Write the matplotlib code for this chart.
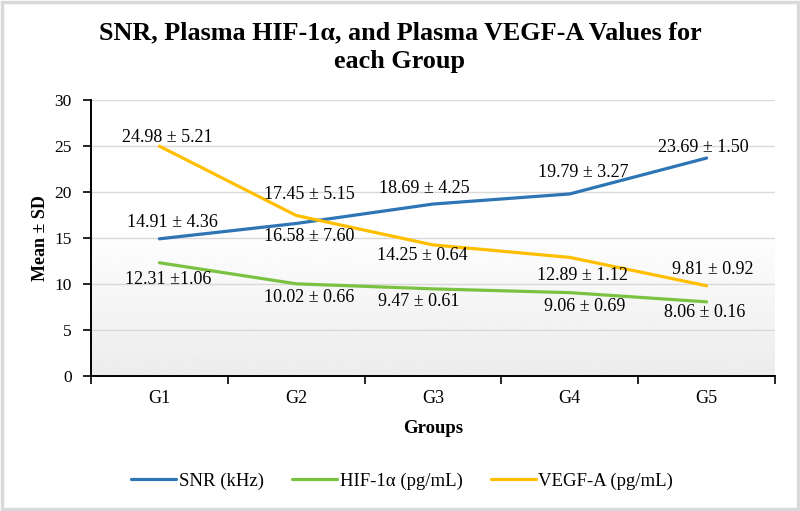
import numpy as np
import matplotlib
matplotlib.use("Agg")
import matplotlib.pyplot as plt
from matplotlib.patches import Rectangle

#--- Data
groups = ["G1", "G2", "G3", "G4", "G5"]
snr_mean = [14.91, 16.58, 18.69, 19.79, 23.69]
snr_sd = [4.36, 7.60, 4.25, 3.27, 1.50]
hif_mean = [12.31, 10.02, 9.47, 9.06, 8.06]
hif_sd = [1.06, 0.66, 0.61, 0.69, 0.16]
vegf_mean = [24.98, 17.45, 14.25, 12.89, 9.81]
vegf_sd = [5.21, 5.15, 0.64, 1.12, 0.92]
series_names = ["SNR (kHz)", "HIF-1\u03b1 (pg/mL)", "VEGF-A (pg/mL)"]

#--- Label placement (pixel offsets from each point)
snr_offsets = [(13, 16), (13, -13.5), (-9, 16), (13, 21), (-3, 11)]
hif_offsets = [(9, -17), (13, -14), (-14, -13), (15, -13.5), (-2, -11)]
vegf_offsets = [(8, 8.5), (13, 20.5), (-11, -11), (13, -17.6), (6, 16)]

colors = ["#2e75b6", "#7cc242", "#ffbf00"]

plt.rcParams['font.family'] = ['Liberation Serif', 'DejaVu Serif']

fig = plt.figure(figsize=(8, 5.11), dpi=100)
ax = fig.add_axes([91 / 800, 1 - 376 / 511, (775 - 91) / 800, (376 - 100) / 511])

#--- Background gradient, white at the top and light gray at the bottom
t = np.linspace(0, 1, 256)
grad = np.where(t < 0.45, 1.0, 1.0 - (t - 0.45) / 0.55 * 0.075)
ax.imshow(grad.reshape(-1, 1), cmap="gray", vmin=0, vmax=1, aspect="auto",
          extent=[-0.5, 4.5, 0, 30], origin="upper", zorder=0)

x = np.arange(len(groups))
series = [(snr_mean, snr_sd, snr_offsets), (hif_mean, hif_sd, hif_offsets), (vegf_mean, vegf_sd, vegf_offsets)]
for (means, sds, offs), name, c in zip(series, series_names, colors):
    ax.plot(x, means, color=c, lw=2.3, label=name, zorder=3, solid_capstyle="round")
    for xi, m, s, (dx, dy) in zip(x, means, sds, offs):
        # the first HIF label has no space after the plus-minus sign in the original
        txt = f"{m:.2f} \u00b1{s:.2f}" if (name == series_names[1] and xi == 0) else f"{m:.2f} \u00b1 {s:.2f}"
        ax.annotate(txt, (xi, m), xytext=(dx * 0.72, dy * 0.72), textcoords="offset points",
                    ha="center", va="center", fontsize=13, zorder=4)

ax.set_xlim(-0.5, 4.5)
ax.set_ylim(0, 30)
ax.set_yticks(np.arange(0, 31, 5))
ax.set_xticks(np.arange(-0.5, 4.6, 1))
ax.set_xticklabels([])
ax.set_xticks(x, minor=True)
ax.set_xticklabels(groups, minor=True)
ax.tick_params(axis="x", which="minor", length=0, pad=10, labelsize=13)
ax.tick_params(axis="x", which="major", length=6, width=1.2, direction="out")
ax.tick_params(axis="y", length=6, width=1.2, direction="out", labelsize=12.5, pad=8)
ax.grid(axis="y", color="#d9d9d9", lw=1, zorder=1)
ax.set_axisbelow(True)
for side in ["top", "right"]:
    ax.spines[side].set_visible(False)
for side in ["left", "bottom"]:
    ax.spines[side].set_linewidth(1.4)
    ax.spines[side].set_zorder(5)

ax.set_ylabel("Mean \u00b1 SD", fontsize=13, fontweight="bold")
ax.set_xlabel("Groups", fontsize=13.5, fontweight="bold")
ax.yaxis.set_label_coords(-0.061, 0.5)
ax.xaxis.set_label_coords(0.5, -0.16)

fig.text(0.5, 1 - 47 / 511, "SNR, Plasma HIF-1\u03b1, and Plasma VEGF-A Values for\neach Group",
         ha="center", va="center", fontsize=18.8, fontweight="bold", linespacing=1.32)

fig.legend(loc="center", bbox_to_anchor=(402 / 800, 1 - 481 / 511), ncol=3, frameon=False,
           prop={"family": "Liberation Serif", "size": 13.5},
           handlelength=2.4, handletextpad=0.15, columnspacing=1.5)

#--- Outer light gray frame
fig.patches.append(Rectangle((0.002, 0.003), 0.996, 0.994, transform=fig.transFigure,
                             fill=False, edgecolor="#d9d9d9", lw=2.5))

fig.savefig("out.png", dpi=100)
